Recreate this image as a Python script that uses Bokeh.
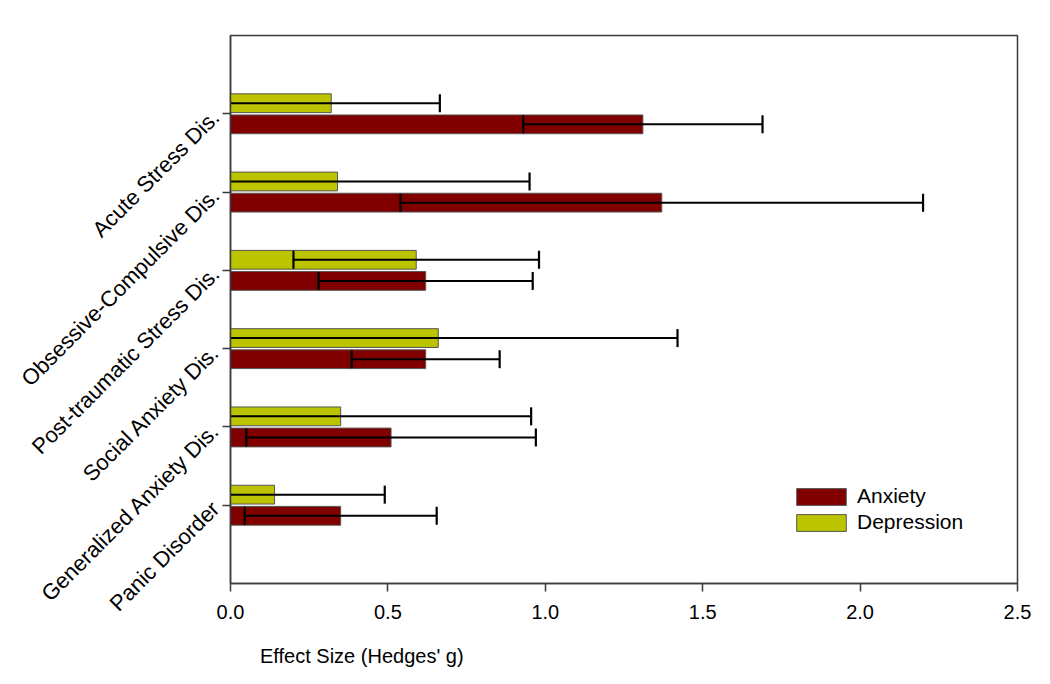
import math
from bokeh.plotting import figure
from bokeh.layouts import column
from bokeh.models import (ColumnDataSource, Range1d, FixedTicker, Legend, LegendItem, Div)
from bokeh.embed import file_html
from bokeh.resources import INLINE

# ---- data ----
categories = ["Panic Disorder", "Generalized Anxiety Dis.", "Social Anxiety Dis.",
              "Post-traumatic Stress Dis.", "Obsessive-Compulsive Dis.", "Acute Stress Dis."]
anxiety_mean = [0.35, 0.51, 0.62, 0.62, 1.37, 1.31]
anxiety_err = [0.305, 0.46, 0.235, 0.34, 0.83, 0.38]
depression_mean = [0.14, 0.35, 0.66, 0.59, 0.34, 0.32]
depression_err = [0.35, 0.605, 0.76, 0.39, 0.61, 0.345]
x_ticks = [0.0, 0.5, 1.0, 1.5, 2.0, 2.5]
x_tick_labels = ["0.0", "0.5", "1.0", "1.5", "2.0", "2.5"]
x_title = "Effect Size (Hedges' g)"

ANX_COLOR = "#800000"
DEP_COLOR = "#bcc400"
AXIS_COLOR = "#3a3a3a"

pos = list(range(1, len(categories) + 1))
off = 0.135
bar_h = 0.24

anx = ColumnDataSource(dict(
    y=[p_ - off for p_ in pos], right=anxiety_mean,
    lo=[m - e for m, e in zip(anxiety_mean, anxiety_err)],
    hi=[m + e for m, e in zip(anxiety_mean, anxiety_err)]))
dep = ColumnDataSource(dict(
    y=[p_ + off for p_ in pos], right=depression_mean,
    lo=[m - e for m, e in zip(depression_mean, depression_err)],
    hi=[m + e for m, e in zip(depression_mean, depression_err)]))

p = figure(width=1034, height=628, output_backend="svg", toolbar_location=None,
           x_range=Range1d(0, 2.5), y_range=Range1d(0, len(categories) + 1),
           min_border_left=230, min_border_right=17, min_border_top=35, min_border_bottom=45)
p.background_fill_color = "white"
p.border_fill_color = "white"
p.outline_line_color = AXIS_COLOR
p.outline_line_width = 1.5
p.xgrid.visible = False
p.ygrid.visible = False

r_anx = p.hbar(y="y", left=0, right="right", height=bar_h, source=anx,
               fill_color=ANX_COLOR, line_color="#555555", line_width=1)
r_dep = p.hbar(y="y", left=0, right="right", height=bar_h, source=dep,
               fill_color=DEP_COLOR, line_color="#555555", line_width=1)

for src in (anx, dep):
    p.segment(x0="lo", x1="hi", y0="y", y1="y", source=src, line_color="black", line_width=2)
    p.scatter(x="lo", y="y", source=src, marker="dash", angle=math.pi / 2, size=18,
              line_color="black", line_width=2.2)
    p.scatter(x="hi", y="y", source=src, marker="dash", angle=math.pi / 2, size=18,
              line_color="black", line_width=2.2)

# x axis
xa = p.xaxis[0]
xa.ticker = FixedTicker(ticks=x_ticks)
xa.major_label_overrides = {t: l for t, l in zip(x_ticks, x_tick_labels)}
xa.minor_tick_line_color = None
xa.major_tick_out = 8
xa.major_tick_in = 0
xa.axis_line_color = AXIS_COLOR
xa.axis_line_width = 1.5
xa.major_tick_line_color = AXIS_COLOR
xa.major_tick_line_width = 1.5
xa.major_label_text_font = "Liberation Sans"
xa.major_label_text_font_size = "20px"
xa.major_label_text_color = "black"
xa.major_label_standoff = 13

# y axis
ya = p.yaxis[0]
ya.ticker = FixedTicker(ticks=pos)
ya.major_label_overrides = {pp: c for pp, c in zip(pos, categories)}
ya.major_label_orientation = math.pi / 4
ya.minor_tick_line_color = None
ya.major_tick_out = 8
ya.major_tick_in = 0
ya.axis_line_color = AXIS_COLOR
ya.axis_line_width = 1.5
ya.major_tick_line_color = AXIS_COLOR
ya.major_tick_line_width = 1.5
ya.major_label_text_font = "Liberation Sans"
ya.major_label_text_font_size = "22px"
ya.major_label_text_color = "black"
ya.major_label_standoff = 7

legend = Legend(items=[LegendItem(label="Anxiety", renderers=[r_anx]),
                       LegendItem(label="Depression", renderers=[r_dep])],
                location=(560, 49))
legend.padding = 0
legend.margin = 0
legend.border_line_alpha = 0
legend.background_fill_alpha = 0
legend.glyph_width = 62
legend.glyph_height = 21
legend.label_height = 21
legend.label_standoff = 5
legend.spacing = 2
legend.label_text_font = "Liberation Sans"
legend.label_text_font_size = "21px"
legend.label_text_color = "black"
legend.label_text_baseline = "middle"
p.add_layout(legend)

# x axis title below the plot, left of the frame centre as in the reference
title_html = ('<div style="margin-top:18px;padding-left:260px;'
              'font-family:\'Liberation Sans\';font-size:20px;line-height:20px;'
              'color:black;white-space:nowrap;">' + x_title + '</div>')
x_title_div = Div(text=title_html, width=1034, height=40, margin=(0, 0, 0, 0))

layout = column(p, x_title_div, spacing=0)

open("out.html", "w").write(file_html(layout, INLINE))
